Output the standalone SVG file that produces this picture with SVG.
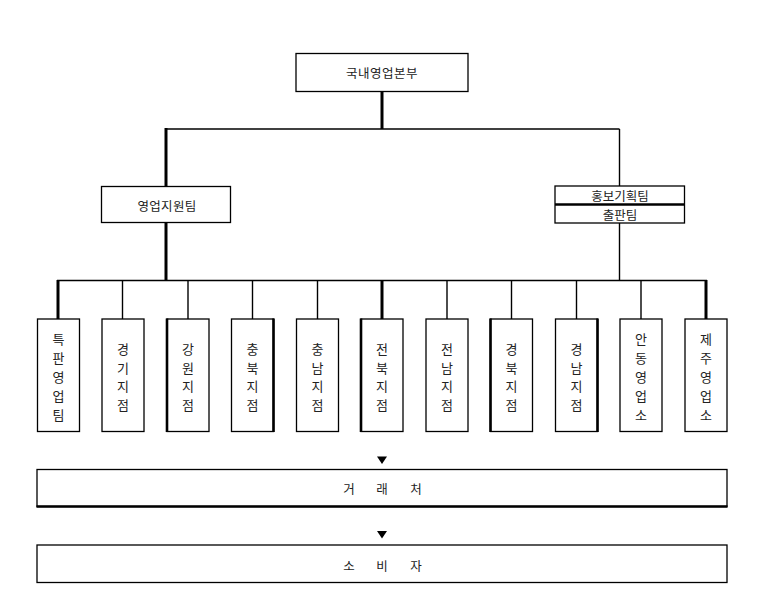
<svg xmlns="http://www.w3.org/2000/svg" width="765" height="606" viewBox="0 0 765 606">
<style>
.box{fill:#fff;stroke:#000;stroke-width:1.3}
.thin{stroke:#000;stroke-width:1.4;fill:none}
.thick{stroke:#000;stroke-width:3;fill:none}
.side{stroke:#000;stroke-width:2.6}
.t{font-family:"Noto Sans CJK KR","Noto Sans",sans-serif;font-size:12.5px;fill:#222;text-anchor:middle;dominant-baseline:central}
.v{font-family:"Noto Sans CJK KR","Noto Sans",sans-serif;font-size:13px;fill:#222;text-anchor:middle;dominant-baseline:central}
.arrow{fill:#000}
</style>
<rect width="765" height="606" fill="#fff"/>
<g id="connectors">
<line class="thick" x1="382" y1="91" x2="382" y2="129"/>
<line class="thin" x1="166" y1="129" x2="619.5" y2="129"/>
<line class="thick" x1="166" y1="128" x2="166" y2="187"/>
<line class="thin" x1="619.5" y1="129" x2="619.5" y2="186"/>
<line class="thick" x1="166" y1="223" x2="166" y2="281"/>
<line class="thin" x1="619.5" y1="223" x2="619.5" y2="281"/>
<line class="thin" x1="57" y1="280.5" x2="707" y2="280.5"/>
<line class="thick" x1="58" y1="280" x2="58" y2="319"/>
<line class="thin" x1="122.5" y1="280" x2="122.5" y2="319"/>
<line class="thin" x1="188" y1="280" x2="188" y2="319"/>
<line class="thin" x1="252.5" y1="280" x2="252.5" y2="319"/>
<line class="thin" x1="317.5" y1="280" x2="317.5" y2="319"/>
<line class="thick" x1="382" y1="280" x2="382" y2="319"/>
<line class="thin" x1="447" y1="280" x2="447" y2="319"/>
<line class="thin" x1="511.5" y1="280" x2="511.5" y2="319"/>
<line class="thin" x1="576.5" y1="280" x2="576.5" y2="319"/>
<line class="thin" x1="641" y1="280" x2="641" y2="319"/>
<line class="thick" x1="706" y1="280" x2="706" y2="319"/>
<polygon class="arrow" points="377,456.5 387,456.5 382,464"/>
<polygon class="arrow" points="377,531 387,531 382,538.5"/>
</g>
<g id="n-hq">
<rect class="box" x="296" y="53.5" width="172" height="38"/>
<text class="t" x="382" y="72.5" letter-spacing="0.5">국내영업본부</text>
</g>
<g id="n-support">
<rect class="box" x="101.5" y="186.5" width="129" height="36"/>
<text class="t" x="167" y="205" letter-spacing="0.3">영업지원팀</text>
</g>
<g id="n-pr">
<rect class="box" x="555" y="186" width="129.5" height="37"/>
<line x1="555" y1="204.5" x2="684.5" y2="204.5" stroke="#000" stroke-width="2.4"/>
<text class="t" x="620" y="195.5" font-size="12">홍보기획팀</text>
<text class="t" x="620" y="214" font-size="12">출판팀</text>
</g>
<g id="n-b1">
<rect class="box" x="37.5" y="319" width="42" height="112.5"/>
<text class="v" x="58.5"><tspan x="58.5" y="338">특</tspan><tspan x="58.5" y="357">판</tspan><tspan x="58.5" y="376">영</tspan><tspan x="58.5" y="395">업</tspan><tspan x="58.5" y="414">팀</tspan></text>
</g>
<g id="n-b2">
<rect class="box" x="102" y="319" width="42" height="112.5"/>
<text class="v" x="123"><tspan x="123" y="348">경</tspan><tspan x="123" y="366.5">기</tspan><tspan x="123" y="385">지</tspan><tspan x="123" y="403.5">점</tspan></text>
</g>
<g id="n-b3">
<rect class="box" x="167" y="319" width="42" height="112.5"/>
<line class="side" x1="167" y1="318.5" x2="167" y2="432"/>
<text class="v" x="188"><tspan x="188" y="348">강</tspan><tspan x="188" y="366.5">원</tspan><tspan x="188" y="385">지</tspan><tspan x="188" y="403.5">점</tspan></text>
</g>
<g id="n-b4">
<rect class="box" x="231.5" y="319" width="42" height="112.5"/>
<line class="side" x1="273.5" y1="318.5" x2="273.5" y2="432"/>
<text class="v" x="252.5"><tspan x="252.5" y="348">충</tspan><tspan x="252.5" y="366.5">북</tspan><tspan x="252.5" y="385">지</tspan><tspan x="252.5" y="403.5">점</tspan></text>
</g>
<g id="n-b5">
<rect class="box" x="296.5" y="319" width="42" height="112.5"/>
<text class="v" x="317.5"><tspan x="317.5" y="348">충</tspan><tspan x="317.5" y="366.5">남</tspan><tspan x="317.5" y="385">지</tspan><tspan x="317.5" y="403.5">점</tspan></text>
</g>
<g id="n-b6">
<rect class="box" x="361" y="319" width="42" height="112.5"/>
<line class="side" x1="361" y1="318.5" x2="361" y2="432"/>
<text class="v" x="382"><tspan x="382" y="348">전</tspan><tspan x="382" y="366.5">북</tspan><tspan x="382" y="385">지</tspan><tspan x="382" y="403.5">점</tspan></text>
</g>
<g id="n-b7">
<rect class="box" x="426" y="319" width="42" height="112.5"/>
<text class="v" x="447"><tspan x="447" y="348">전</tspan><tspan x="447" y="366.5">남</tspan><tspan x="447" y="385">지</tspan><tspan x="447" y="403.5">점</tspan></text>
</g>
<g id="n-b8">
<rect class="box" x="490.5" y="319" width="42" height="112.5"/>
<line class="side" x1="490.5" y1="318.5" x2="490.5" y2="432"/>
<text class="v" x="511.5"><tspan x="511.5" y="348">경</tspan><tspan x="511.5" y="366.5">북</tspan><tspan x="511.5" y="385">지</tspan><tspan x="511.5" y="403.5">점</tspan></text>
</g>
<g id="n-b9">
<rect class="box" x="555.5" y="319" width="42" height="112.5"/>
<line class="side" x1="597.5" y1="318.5" x2="597.5" y2="432"/>
<text class="v" x="576.5"><tspan x="576.5" y="348">경</tspan><tspan x="576.5" y="366.5">남</tspan><tspan x="576.5" y="385">지</tspan><tspan x="576.5" y="403.5">점</tspan></text>
</g>
<g id="n-b10">
<rect class="box" x="620" y="319" width="42" height="112.5"/>
<text class="v" x="641"><tspan x="641" y="338">안</tspan><tspan x="641" y="357">동</tspan><tspan x="641" y="376">영</tspan><tspan x="641" y="395">업</tspan><tspan x="641" y="414">소</tspan></text>
</g>
<g id="n-b11">
<rect class="box" x="685" y="319" width="42" height="112.5"/>
<text class="v" x="706"><tspan x="706" y="338">제</tspan><tspan x="706" y="357">주</tspan><tspan x="706" y="376">영</tspan><tspan x="706" y="395">업</tspan><tspan x="706" y="414">소</tspan></text>
</g>
<g id="n-dealer">
<rect class="box" x="37" y="469.5" width="690" height="37"/>
<line x1="36.5" y1="506.5" x2="727.5" y2="506.5" stroke="#000" stroke-width="2.6"/>
<text class="t" y="488"><tspan x="349">거</tspan><tspan x="382">래</tspan><tspan x="416">처</tspan></text>
</g>
<g id="n-consumer">
<rect class="box" x="37" y="545" width="690" height="37.5"/>
<text class="t" y="564.5"><tspan x="349">소</tspan><tspan x="382">비</tspan><tspan x="416">자</tspan></text>
</g>
</svg>
